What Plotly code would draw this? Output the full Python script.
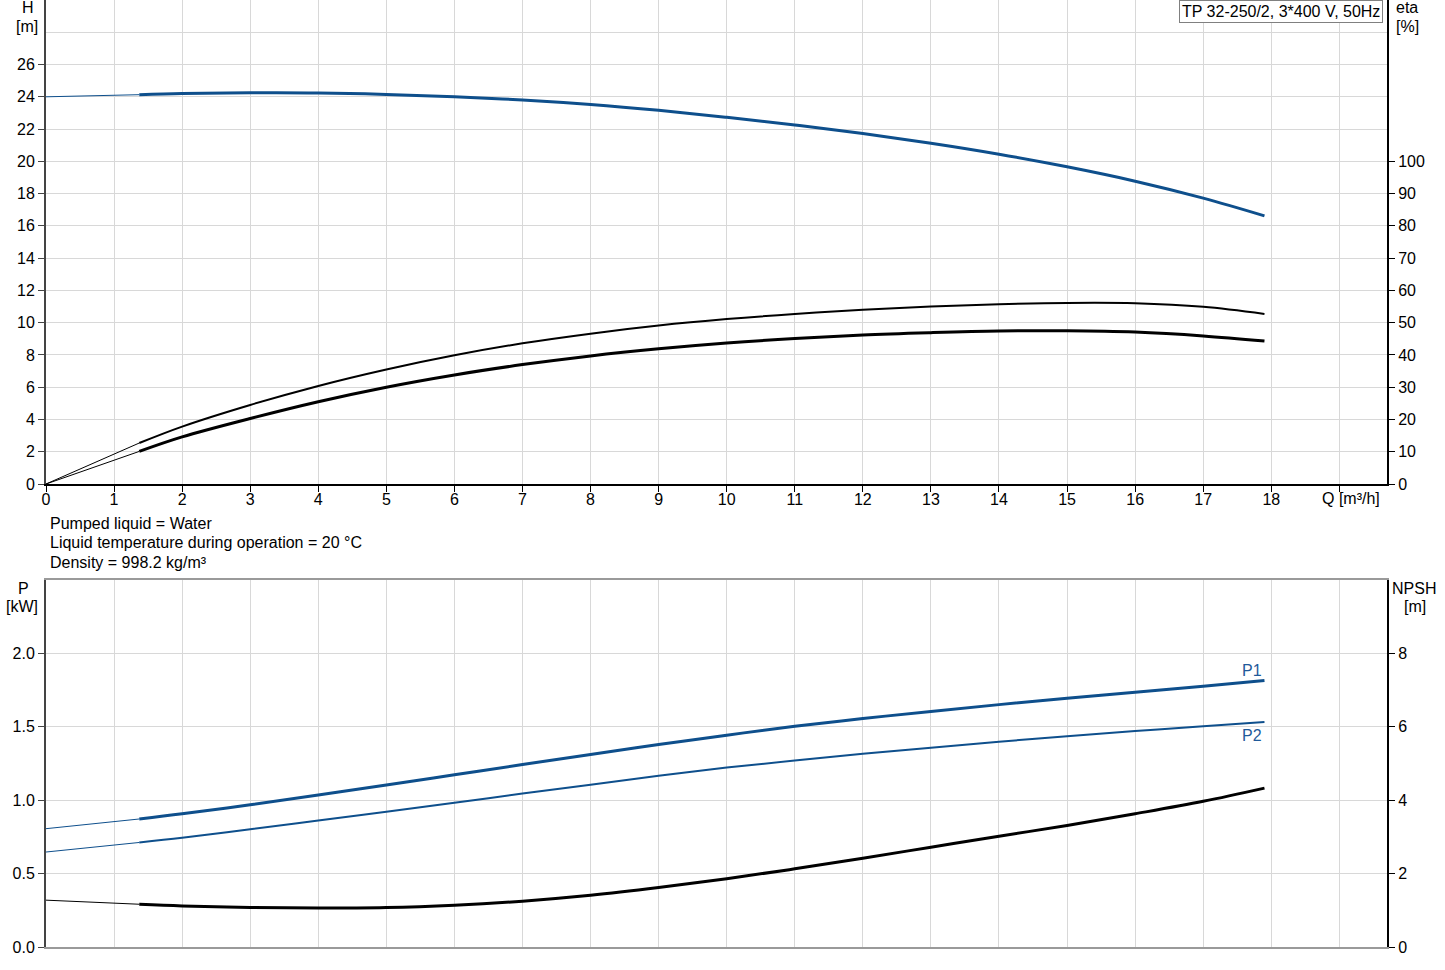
import plotly.graph_objects as go

W, HGT = 1445, 970

# ---------------- data ----------------
q = [1.37, 2, 3, 4, 5, 6, 7, 8, 9, 10, 11, 12, 13, 14, 15, 16, 17, 17.9]
head = [24.13, 24.2, 24.25, 24.24, 24.15, 24.0, 23.8, 23.52, 23.16, 22.73, 22.25,
        21.72, 21.12, 20.44, 19.66, 18.77, 17.72, 16.62]
eta_upper = [12.7, 17.8, 24.5, 30.4, 35.5, 39.9, 43.6, 46.6, 49.1, 51.1, 52.7,
             54.0, 55.0, 55.7, 56.1, 56.0, 54.9, 52.7]
eta_lower = [10.1, 14.6, 20.3, 25.5, 30.0, 33.8, 37.0, 39.7, 41.9, 43.7, 45.1,
             46.2, 46.9, 47.4, 47.5, 47.1, 45.9, 44.3]
p1 = [0.872, 0.907, 0.969, 1.035, 1.103, 1.173, 1.243, 1.312, 1.379, 1.443, 1.503,
      1.556, 1.605, 1.651, 1.694, 1.736, 1.777, 1.816]
p2 = [0.712, 0.744, 0.802, 0.862, 0.922, 0.983, 1.045, 1.106, 1.166, 1.222, 1.271,
      1.316, 1.358, 1.398, 1.436, 1.471, 1.504, 1.532]
npsh = [1.165, 1.12, 1.075, 1.06, 1.075, 1.14, 1.25, 1.41, 1.62, 1.86, 2.13,
        2.42, 2.72, 3.02, 3.31, 3.63, 3.97, 4.33]

# values at zero flow (start of thin extension lines)
q0 = 0
head0 = 24.0
eta_upper0 = 0
eta_lower0 = 0
p1_0 = 0.806
p2_0 = 0.647
npsh0 = 1.276

x_ticks = list(range(0, 20))
x_ticktext = [str(v) for v in range(0, 19)] + [""]
q_label = "Q [m³/h]"
h_ticks = list(range(0, 28, 2))
eta_ticks = list(range(0, 101, 10))
p_ticks = [0, 0.5, 1.0, 1.5, 2.0]
p_ticktext = ["0.0", "0.5", "1.0", "1.5", "2.0"]
npsh_ticks = [0, 2, 4, 6, 8]

info_lines = ["Pumped liquid = Water",
              "Liquid temperature during operation = 20 °C",
              "Density = 998.2 kg/m³"]
title_box = "TP 32-250/2, 3*400 V, 50Hz"

BLUE = "#0e4f8c"
BLACK = "#000000"
GRID = "#d8d8d8"
FONT = "Liberation Sans, Arial, sans-serif"


def px(x):
    return x / W


def py(y):
    return 1 - y / HGT


fig = go.Figure()


def add_curve(qs, ys, x0, y0, color, width, xa, ya):
    # thin extension from zero flow
    fig.add_trace(go.Scatter(x=[x0, qs[0]], y=[y0, ys[0]], mode="lines",
                             line=dict(color=color, width=1), xaxis=xa, yaxis=ya,
                             showlegend=False, hoverinfo="skip"))
    fig.add_trace(go.Scatter(x=qs, y=ys, mode="lines",
                             line=dict(color=color, width=width, shape="spline",
                                       smoothing=1.0),
                             xaxis=xa, yaxis=ya, showlegend=False))


add_curve(q, head, q0, head0, BLUE, 3, "x", "y")
add_curve(q, eta_upper, q0, eta_upper0, BLACK, 2, "x", "y2")
add_curve(q, eta_lower, q0, eta_lower0, BLACK, 3, "x", "y2")
add_curve(q, p1, q0, p1_0, BLUE, 3, "x2", "y3")
add_curve(q, p2, q0, p2_0, BLUE, 2, "x2", "y3")
add_curve(q, npsh, q0, npsh0, BLACK, 3, "x2", "y4")

xdom = [px(46), px(1387)]
xrange = [0, 19.7]
tickfont = dict(family=FONT, size=16, color="#000")

fig.update_layout(
    width=W, height=HGT,
    margin=dict(l=0, r=0, t=0, b=0),
    paper_bgcolor="white", plot_bgcolor="white",
    font=dict(family=FONT, size=16, color="#000"),
    showlegend=False,
    xaxis=dict(domain=xdom, anchor="y", range=xrange, tickvals=x_ticks,
               ticktext=x_ticktext, showgrid=True, gridcolor=GRID, gridwidth=1,
               showline=True, linecolor="#000", linewidth=2, ticks="outside",
               ticklen=6, tickcolor="#000", tickfont=tickfont, zeroline=False,
               automargin=False, ticklabelstandoff=-6),
    yaxis=dict(domain=[py(484), 1], range=[0, 30], tickvals=h_ticks,
               showgrid=True, gridcolor=GRID, gridwidth=1, showline=True,
               linecolor="#444", linewidth=2, ticks="outside", ticklen=6,
               tickcolor="#444", tickfont=tickfont, zeroline=False,
               automargin=False,
               minor=dict(tickvals=[28], showgrid=True, gridcolor=GRID, ticks="")),
    yaxis2=dict(overlaying="y", side="right", anchor="x", range=[0, 150],
                tickvals=eta_ticks, showgrid=False, showline=True, linecolor="#000",
                linewidth=2, ticks="outside", ticklen=6, tickcolor="#000",
                tickfont=tickfont, zeroline=False, automargin=False),
    xaxis2=dict(domain=xdom, anchor="y3", range=xrange, tickvals=x_ticks,
                showticklabels=False, showgrid=True, gridcolor=GRID, gridwidth=1,
                showline=True, linecolor="#9a9a9a", linewidth=2, mirror=True,
                ticks="", zeroline=False, automargin=False),
    yaxis3=dict(domain=[py(947), py(580)], anchor="x2", range=[0, 2.5],
                tickvals=p_ticks, ticktext=p_ticktext, showgrid=True,
                gridcolor=GRID, gridwidth=1, showline=True, linecolor="#444",
                linewidth=2, ticks="outside", ticklen=6, tickcolor="#444",
                tickfont=tickfont, zeroline=False, automargin=False),
    yaxis4=dict(overlaying="y3", side="right", anchor="x2", range=[0, 10],
                tickvals=npsh_ticks, showgrid=False, showline=True,
                linecolor="#000", linewidth=2, ticks="outside", ticklen=6,
                tickcolor="#000", tickfont=tickfont, zeroline=False,
                automargin=False),
)

ann = []


def label(text, x, y, xanchor="center", color="#000"):
    ann.append(dict(text=text, x=px(x), y=py(y), xref="paper", yref="paper",
                    xanchor=xanchor, yanchor="middle", showarrow=False,
                    font=dict(family=FONT, size=16, color=color)))


label("H", 28, 8)
label("[m]", 27, 26)
label("eta", 1407, 8)
label("[%]", 1407, 26)
label("P", 23, 588)
label("[kW]", 22, 606)
label("NPSH", 1414, 588)
label("[m]", 1415, 606)
label(q_label, 1351, 499)
for i, t in enumerate(info_lines):
    label(t, 48, 523 + i * 19.5, xanchor="left")
label("P1", 1252, 670, color="#1f5a9a")
label("P2", 1252, 735, color="#1f5a9a")

ann.append(dict(text=title_box, x=px(1281), y=py(12), xref="paper", yref="paper",
                xanchor="center", yanchor="middle", showarrow=False,
                font=dict(family=FONT, size=16, color="#000"),
                bordercolor="#808080", borderwidth=1, borderpad=2, bgcolor="white"))

fig.update_layout(annotations=ann)

fig.write_html("out.html",
               config={"displayModeBar": False},
               post_script="document.body.style.margin='0';"
                           "document.body.style.overflow='hidden';")
